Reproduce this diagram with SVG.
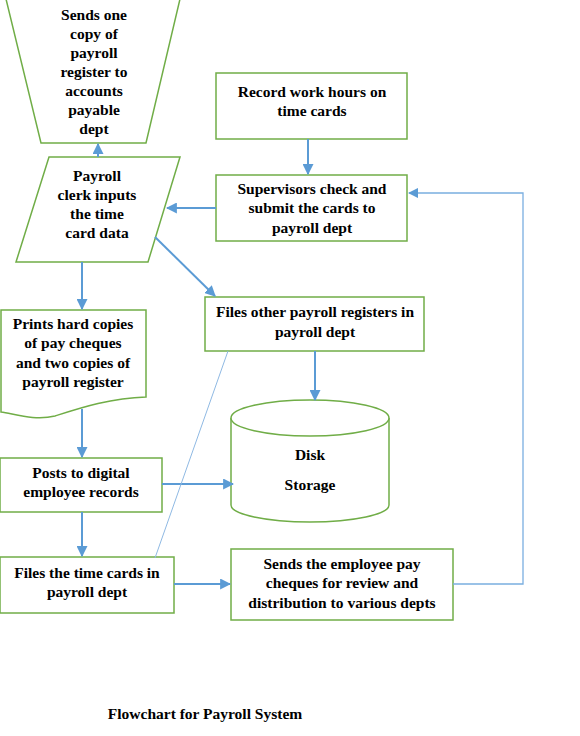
<svg xmlns="http://www.w3.org/2000/svg" width="580" height="736" viewBox="0 0 580 736">
<defs>
<style>
.n{fill:#fff;stroke:#70ad47;stroke-width:1.5}
.t{font-family:"Liberation Serif","Times New Roman",serif;font-weight:bold;font-size:15.5px;fill:#000;text-anchor:middle}
.c{fill:none;stroke:#5b9bd5;stroke-width:2}
.thin{fill:none;stroke:#8fb9e3;stroke-width:1}
.fb{fill:none;stroke:#7aaee0;stroke-width:1.3}
</style>
<marker id="ah" viewBox="0 0 10 10" refX="9" refY="5" markerWidth="5.5" markerHeight="5.5" orient="auto" markerUnits="strokeWidth">
<path d="M0,0 L10,5 L0,10 z" fill="#5b9bd5"/>
</marker>
<marker id="ah2" viewBox="0 0 10 10" refX="9" refY="5" markerWidth="8" markerHeight="8" orient="auto" markerUnits="strokeWidth">
<path d="M0,0 L10,5 L0,10 z" fill="#5b9bd5"/>
</marker>
</defs>
<rect width="580" height="736" fill="#fff"/>

<g id="sends-copy">
<path class="n" d="M6,-1 L180,-1 L146,143 L41,143 Z"/>
<text class="t"><tspan x="94" y="20">Sends one</tspan><tspan x="94" y="39">copy of</tspan><tspan x="94" y="58">payroll</tspan><tspan x="94" y="77">register to</tspan><tspan x="94" y="96">accounts</tspan><tspan x="94" y="115">payable</tspan><tspan x="94" y="134">dept</tspan></text>
</g>

<g id="clerk-inputs">
<path class="n" d="M49,157 L180,157 L148,262 L16,262 Z"/>
<text class="t"><tspan x="97" y="181">Payroll</tspan><tspan x="97" y="200">clerk inputs</tspan><tspan x="97" y="219">the time</tspan><tspan x="97" y="238">card data</tspan></text>
</g>

<g id="record-hours">
<rect class="n" x="216" y="73" width="191" height="66"/>
<text class="t"><tspan x="312" y="97">Record work hours on</tspan><tspan x="312" y="116">time cards</tspan></text>
</g>

<g id="supervisors">
<rect class="n" x="216" y="175" width="191" height="66"/>
<text class="t"><tspan x="312" y="194">Supervisors check and</tspan><tspan x="312" y="213">submit the cards to</tspan><tspan x="312" y="233">payroll dept</tspan></text>
</g>

<g id="files-other">
<rect class="n" x="205" y="297" width="219" height="54"/>
<text class="t"><tspan x="315" y="317">Files other payroll registers in</tspan><tspan x="315" y="337">payroll dept</tspan></text>
</g>

<g id="prints">
<path class="n" d="M1,310 L146,310 L146,397 C110,398 80,408 55,416 C35,421 15,414 1,412 Z"/>
<text class="t"><tspan x="73" y="329">Prints hard copies</tspan><tspan x="73" y="348">of pay cheques</tspan><tspan x="73" y="368">and two copies of</tspan><tspan x="73" y="387">payroll register</tspan></text>
</g>

<g id="disk">
<path class="n" d="M231,418 L231,505 A79,17 0 0 0 389,505 L389,418"/>
<ellipse class="n" cx="310" cy="418" rx="79" ry="18"/>
<text class="t"><tspan x="310" y="460">Disk</tspan><tspan x="310" y="490">Storage</tspan></text>
</g>

<g id="posts">
<rect class="n" x="0" y="458" width="162" height="54"/>
<text class="t"><tspan x="81" y="478">Posts to digital</tspan><tspan x="81" y="497">employee records</tspan></text>
</g>

<g id="files-time">
<rect class="n" x="0" y="557" width="174" height="56"/>
<text class="t"><tspan x="87" y="578">Files the time cards in</tspan><tspan x="87" y="597">payroll dept</tspan></text>
</g>

<g id="sends-cheques">
<rect class="n" x="231" y="549" width="222" height="71"/>
<text class="t"><tspan x="342" y="569">Sends the employee pay</tspan><tspan x="342" y="588">cheques for review and</tspan><tspan x="342" y="608">distribution to various depts</tspan></text>
</g>

<g id="title">
<text class="t" x="205" y="719">Flowchart for Payroll System</text>
</g>

<g id="connectors">
<line class="c" x1="98" y1="157" x2="98" y2="144" marker-end="url(#ah)"/>
<line class="c" x1="308" y1="139" x2="308" y2="174" marker-end="url(#ah)"/>
<line class="c" x1="216" y1="208" x2="167" y2="208" marker-end="url(#ah)"/>
<line class="c" x1="155" y1="237" x2="215" y2="296" marker-end="url(#ah)"/>
<line class="c" x1="82" y1="262" x2="82" y2="309" marker-end="url(#ah)"/>
<line class="c" x1="315" y1="351" x2="315" y2="400" marker-end="url(#ah)"/>
<line class="c" x1="82" y1="409" x2="82" y2="457" marker-end="url(#ah)"/>
<line class="c" x1="162" y1="484" x2="233" y2="484" marker-end="url(#ah)"/>
<line class="c" x1="82" y1="512" x2="82" y2="556" marker-end="url(#ah)"/>
<line class="c" x1="174" y1="584" x2="230" y2="584" marker-end="url(#ah)"/>
<polyline class="fb" points="453,584 523,584 523,193 409,193" marker-end="url(#ah2)"/>
<line class="thin" x1="228" y1="351" x2="155" y2="558"/>
</g>
</svg>
